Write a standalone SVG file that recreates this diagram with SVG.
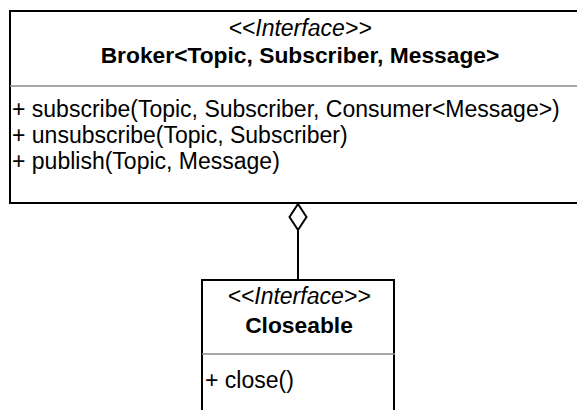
<svg xmlns="http://www.w3.org/2000/svg" width="577" height="410" viewBox="0 0 577 410">
<style>
.box{fill:#fff;stroke:#000;stroke-width:2}
.sep{stroke:#888;stroke-width:1.5}
.st{font-family:"Liberation Sans",Arial,sans-serif;font-style:italic;font-size:23px;text-anchor:middle;fill:#000}
.nm{font-family:"Liberation Sans",Arial,sans-serif;font-weight:bold;font-size:22.8px;text-anchor:middle;fill:#000}
.mb{font-family:"Liberation Sans",Arial,sans-serif;font-size:23px;fill:#000}
.edge{fill:none;stroke:#000;stroke-width:2}
</style>
<rect width="577" height="410" fill="#fff"/>
<g id="broker">
<rect class="box" x="10" y="11" width="580" height="192"/>
<text class="st" x="300" y="36">&lt;&lt;Interface&gt;&gt;</text>
<text class="nm" x="300" y="63">Broker&lt;Topic, Subscriber, Message&gt;</text>
<line class="sep" x1="10" y1="86" x2="590" y2="86"/>
<text class="mb" x="12" y="117">+ subscribe(Topic, Subscriber, Consumer&lt;Message&gt;)</text>
<text class="mb" x="12" y="143">+ unsubscribe(Topic, Subscriber)</text>
<text class="mb" x="12" y="169">+ publish(Topic, Message)</text>
</g>
<g id="closeable">
<rect class="box" x="202" y="280" width="192" height="140"/>
<text class="st" x="299" y="304">&lt;&lt;Interface&gt;&gt;</text>
<text class="nm" x="299" y="333">Closeable</text>
<line class="sep" x1="202" y1="354" x2="395" y2="354"/>
<text class="mb" x="205" y="388">+ close()</text>
</g>
<g id="connectors">
<path class="edge" d="M298 230 L298 280"/>
<path class="edge" d="M298 204 L306.5 217 L298 230 L289.5 217 Z" style="fill:#fff"/>
</g>
</svg>
